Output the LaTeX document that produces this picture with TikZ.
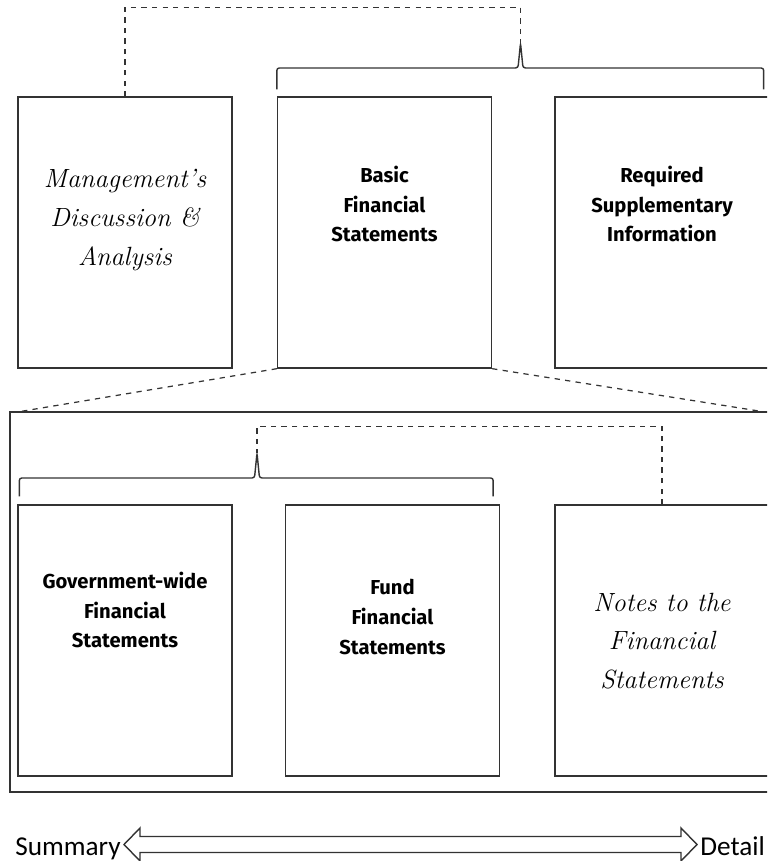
\documentclass[tikz,border=0pt]{standalone}
\usepackage{fontspec}
\setsansfont{Fira Sans}
\newfontfamily\captionfont{Carlito}
\usetikzlibrary{positioning}

\tikzset{
  page/.style={draw=black!80, line width=0.8pt, minimum width=4.28cm, minimum height=5.42cm, inner sep=0pt},
  scripttext/.style={align=center, font=\rmfamily\itshape\fontsize{15}{22}\selectfont},
  boldtext/.style={align=center, font=\sffamily\bfseries\fontsize{11.5}{17}\selectfont},
  bracket/.style={draw=black!80, line width=0.8pt, rounded corners=0.05cm},
  link/.style={draw=black!80, line width=0.7pt, dashed},
  scaletext/.style={inner sep=0pt, font=\captionfont\fontsize{15.5}{16}\selectfont},
}

\begin{document}
\begin{tikzpicture}[x=0.02cm, y=-0.02cm]
    \useasboundingbox (0,0) rectangle (767,861);
    \clip (0,0) rectangle (767,861);

    % top row
    \node[page] (mda) at (125,232.5) {};
    \node[page] (bfs) at (384.5,232.5) {};
    \node[page] (rsi) at (662,232.5) {};
    \node[scripttext] (mdatext) at (125,220) {Management's\\Discussion \&\\Analysis};
    \node[boldtext] (bfstext) at (384.5,204) {Basic\\Financial\\Statements};
    \node[boldtext] (rsitext) at (662,204) {Required\\Supplementary\\Information};

    % brace over basic statements and rsi
    \coordinate (topmid) at (520.5,68);
    \draw[bracket] ([yshift=0.14cm]bfs.north west) |- ([xshift=-0.05cm]topmid) -- ([yshift=0.5cm]topmid)
        -- ([xshift=0.05cm]topmid) -| ([xshift=-0.12cm,yshift=0.14cm]rsi.north east);
    \draw[link] (mda.north) -- ++(0,-89) -| ([yshift=0.5cm]topmid);

    % zoom into basic statements
    \node[draw=black!80, line width=0.8pt, minimum width=15.3cm, minimum height=7.6cm, inner sep=0pt] (frame) at (392.5,602) {};
    \coordinate (zoomright) at (765,412);
    \draw[link] (bfs.south west) -- ([xshift=0.24cm]frame.north west);
    \draw[link] (bfs.south east) -- (zoomright);

    % bottom row
    \node[page] (gov) at (125,640.5) {};
    \node[page] (fund) at (392.5,640.5) {};
    \node[page] (notes) at (662,640.5) {};
    \node[boldtext] (govtext) at (125,610) {Government-wide\\Financial\\Statements};
    \node[boldtext] (fundtext) at (392.5,617) {Fund\\Financial\\Statements};
    \node[scripttext] (notestext) at (662,641) {Notes to the\\Financial\\Statements};

    % brace over government-wide and fund
    \coordinate (botmid) at (257,478);
    \draw[bracket] ([xshift=0.04cm,yshift=0.16cm]gov.north west) |- ([xshift=-0.05cm]botmid) -- ([yshift=0.5cm]botmid)
        -- ([xshift=0.05cm]botmid) -| ([xshift=-0.14cm,yshift=0.16cm]fund.north east);
    \draw[link] (notes.north) -- ++(0,-78) -| ([yshift=0.5cm]botmid);

    % summary - detail scale
    \node[scaletext, anchor=base east] (summary) at (121,855) {Summary};
    \node[scaletext, anchor=base west] (detail) at (700,855) {Detail};
    \draw[draw=black!80, line width=0.8pt, fill=white]
        (124,844.5) -- (140,828) -- (140,836.5) -- (681,836.5) -- (681,828) -- (697,844.5)
        -- (681,861) -- (681,852.5) -- (140,852.5) -- (140,861) -- cycle;
\end{tikzpicture}
\end{document}
